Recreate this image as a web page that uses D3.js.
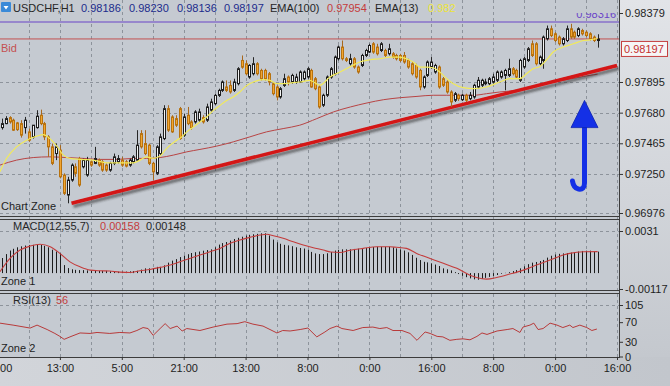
<!DOCTYPE html>
<html>
<head>
<meta charset="utf-8">
<script src="https://cdn.jsdelivr.net/npm/d3@7"></script>
<style>
  html, body { margin: 0; padding: 0; background: #c6cad0; }
  svg { display: block; font-family: "Liberation Sans", Arial, sans-serif; }
</style>
</head>
<body>
<svg id="chart" width="670" height="386"></svg>
<script>
// USDCHF H1 - candles, prices x 100000
const open = [97575,97603,97645,97627,97608,97603,97575,97545,97510,97575,
97662,97603,97510,97440,97393,97417,97242,97102,97207,97300,
97358,97300,97242,97335,97324,97347,97335,97312,97277,97324,
97335,97347,97335,97312,97335,97347,97533,97463,97452,97324,
97254,97393,97498,97708,97650,97638,97708,97522,97662,97615,
97615,97627,97645,97627,97697,97743,97801,97836,97860,97871,
97836,97883,98046,98023,97930,97953,98023,97976,97976,97953,
97883,97860,97790,97871,97930,97895,97895,97895,97918,97930,
97976,97918,97860,97732,97802,97930,97953,98058,98140,98058,
98023,98058,98000,98011,98081,98105,98163,98140,98116,98116,
98093,98093,98081,98081,98081,98046,98023,98011,97976,97860,
97941,98000,97965,98000,97918,97895,97825,97767,97802,97771,
97802,97778,97790,97860,97872,97883,97883,97895,97907,97930,
97941,97941,97988,97976,97907,98000,98046,98163,98163,98023,
98046,98198,98268,98233,98210,98163,98186,98268,98244,98221,
98256,98244,98233,98210,98186];
const high = [97638,97655,97655,97638,97615,97627,97650,97568,97592,97697,
97701,97615,97522,97463,97463,97452,97254,97230,97324,97324,
97370,97358,97370,97347,97440,97358,97347,97324,97335,97393,
97382,97370,97347,97358,97382,97557,97557,97557,97463,97335,
97452,97533,97732,97732,97662,97662,97720,97673,97720,97627,
97697,97708,97662,97743,97778,97813,97848,97906,97906,97906,
97918,97999,98081,98046,98020,98069,98034,97988,97988,97965,
97895,97871,97860,97953,97941,97953,97953,97976,97976,97999,
97988,97930,97872,97813,97941,98000,98081,98151,98186,98070,
98093,98070,98011,98093,98128,98163,98175,98163,98175,98128,
98163,98105,98093,98093,98105,98058,98035,98023,97988,97941,
98046,98070,98023,98011,97930,97907,97837,97825,97813,97813,
97813,97825,97883,97930,97918,97918,97930,97953,97976,97976,
97988,98058,98000,97988,98058,98070,98140,98186,98175,98081,
98221,98291,98291,98244,98221,98210,98291,98303,98256,98279,
98268,98256,98244,98221,98230];
const low = [97561,97599,97603,97552,97552,97505,97533,97475,97498,97568,
97592,97487,97370,97312,97347,97219,97102,97044,97195,97230,
97160,97289,97230,97300,97319,97300,97265,97265,97265,97312,
97324,97300,97296,97300,97324,97335,97428,97382,97312,97207,
97242,97382,97487,97545,97538,97580,97490,97510,97592,97561,
97603,97615,97603,97615,97685,97731,97790,97825,97825,97813,
97825,97871,97988,97941,97918,97941,97941,97906,97906,97871,
97801,97766,97778,97860,97871,97883,97883,97888,97906,97918,
97855,97837,97708,97720,97790,97918,97941,98046,98046,98035,
98011,97988,97953,98000,98070,98098,98093,98081,98105,98070,
98081,98058,98046,98035,98023,97988,97941,97918,97837,97848,
97930,97988,97953,97848,97860,97813,97720,97755,97762,97762,
97755,97767,97778,97848,97860,97872,97872,97883,97895,97918,
97837,97930,97941,97918,97895,97988,98035,98070,98011,98011,
97988,98186,98210,98175,98151,98151,98175,98198,98198,98210,
98221,98210,98186,98175,98136];
const close = [97603,97638,97615,97557,97561,97522,97627,97487,97592,97655,
97603,97510,97440,97324,97440,97230,97114,97207,97312,97254,
97172,97347,97347,97312,97358,97312,97277,97277,97324,97370,
97358,97312,97305,97347,97370,97452,97440,97393,97324,97265,
97440,97510,97708,97557,97545,97592,97498,97650,97603,97575,
97685,97685,97615,97720,97755,97801,97836,97895,97836,97825,
97895,97988,97999,97953,98011,98023,97953,97918,97918,97895,
97813,97790,97848,97918,97895,97941,97930,97965,97965,97988,
97860,97848,97720,97802,97930,97988,98070,98140,98058,98046,
98058,98000,97965,98081,98116,98151,98105,98093,98163,98081,
98128,98070,98058,98046,98035,98000,97953,97930,97860,97930,
98035,98035,98011,97860,97872,97825,97755,97813,97778,97802,
97767,97802,97872,97907,97907,97895,97918,97930,97965,97965,
97976,97988,97953,97930,98046,98058,98128,98081,98023,98070,
98210,98268,98221,98186,98163,98198,98268,98210,98210,98268,
98233,98221,98198,98186,98197];

// moving averages (bar index, price x 100000)
const ema13Idx = [-0.5,1.2,3.8,6.4,9,10.7,12.4,14.2,15.9,17.6,20.2,23.6,27.1,30.5,34,35.7,37.4,39.1,40.9,42.2,
  43.5,45.2,46.5,47.8,49.5,51.2,52.9,54.7,56.4,58.1,59.8,61.5,63.3,65,67.6,69.3,71,72.7,74.5,77,
  79.6,82.2,84.8,87.4,89.9,92.5,95.1,97.7,100.3,102.9,104.6,106.3,108.1,109.8,111.5,113.2,115,116.7,119.3,121.9,
  125.3,128.7,131.3,133.9,135.6,137.3,139.1,140.8,142.5,145.1,147.7,150.3,152,154];
const ema13 = [97265,97358,97440,97487,97515,97526,97498,97445,97382,97359,97352,97347,97328,97328,97328,97347,97370,97359,97375,97417,
  97452,97487,97510,97545,97580,97615,97650,97696,97731,97766,97790,97825,97871,97895,97911,97906,97883,97883,97888,97895,
  97906,97872,97930,97965,98000,98035,98051,98058,98070,98070,98058,98035,98000,98000,97995,97965,97918,97883,97855,97848,
  97860,97895,97918,97918,97953,97988,98004,98051,98105,98140,98163,98186,98191,98200];
const ema100Idx = [-0.5,3.8,8.1,12.4,16.7,21.1,25.4,29.7,34,37.4,40.9,44.3,47.8,51.2,55.5,59.8,64.1,68.4,72.7,77,
  81.4,85.7,90.1,94.4,98.7,103,107.3,111.5,115,118.4,121.9,125.3,128.7,133,137.3,141.6,145.9,150.3,154];
const ema100 = [97312,97347,97365,97370,97365,97359,97352,97352,97359,97359,97365,97382,97405,97422,97445,97475,97510,97545,97568,97592,
  97638,97685,97720,97748,97771,97785,97794,97802,97802,97802,97802,97813,97825,97837,97865,97888,97911,97934,97950];

// MACD(12,55,7) histogram, x 100000, one per bar
const macd = [111,140,166,179,190,197,203,207,208,212,
  207,201,190,172,159,148,59,37,28,24,
  22,22,20,18,17,17,17,17,13,11,
  10,10,11,13,15,17,26,35,35,37,
  46,46,57,77,92,103,118,129,139,148,
  154,159,165,170,175,190,210,221,229,239,
  251,260,268,276,282,286,289,293,293,277,
  247,227,216,208,204,198,190,185,181,173,
  156,145,140,140,146,155,166,171,175,175,
  175,178,180,182,185,189,192,194,194,194,
  194,190,182,175,166,153,134,113,96,83,
  79,72,63,52,35,28,20,7,-7,-20,
  -30,-39,-46,-49,-42,-35,-28,-21,-14,-5,
  2,7,15,22,35,50,66,77,82,89,
  97,114,128,137,142,145,148,151,155,159,
  163,165,165,161,158];
const sigIdx = [-0.5,2.1,4.7,7.3,9.9,12.5,15,17.6,20.2,22.8,25.4,27.9,30.5,33.1,35.7,38.3,40.9,43.5,46,48.6,
  51.2,53.8,56.4,59,61.5,64.1,66.7,68.5,70.2,72.7,75.3,77.9,80.5,83.1,85,87.4,90,93.4,96.9,100.3,
  102,104.6,107.2,110.7,114.1,117.6,121,122.7,125.3,127.9,131.3,134.8,138.2,141.7,145.1,146.8,150.3,154];
const sigVal = [10,108,170,199,212,194,145,83,46,22,17,15,7,5,17,27,42,59,83,108,
  133,157,182,219,244,263,280,286,275,256,231,207,187,170,155,152,168,182,194,194,
  190,182,145,108,72,35,-15,-32,-44,-32,-7,22,59,96,133,145,157,158];

// RSI(13)
const rsiIdx = [-0.5,2.9,7.3,9.1,11.7,13.7,15,16.1,17.6,20.2,22.8,24.6,27.9,30.5,33.1,34.9,36.5,37.8,39.1,40.9,
  42.2,43.5,45.3,46.6,47.8,51.2,54.6,58.2,60.8,62.8,64.9,67.5,71.1,72.6,74.5,77.1,79.1,81.4,83.5,84.8,
  86.6,87.9,90.8,93.3,95.9,97.7,99.5,101.1,103.4,105.5,107.3,109.4,110.7,112.5,114,115.8,117.6,119.2,121,122.8,
  124.1,125.4,128,130.6,132.1,133.9,134.7,136.5,137.5,138.6,139.9,141.7,143.5,145,146.8,147.6,149.4,151.2,152.5,153.8];
const rsiVal = [68,64,58,64,55,47,41,35,40,48,47,49,47,49,48,53,59,57,43,57,
  67,57,62,52,57,53,60,66,67,71,66,62,48,53,52,55,58,40,50,57,
  62,57,53,59,60,57,59,53,53,47,33,50,47,41,40,33,35,36,34,41,
  48,45,52,55,57,49,60,64,68,55,57,68,64,59,64,59,64,59,53,56];

// axes
const priceTicks = [0.98379, 0.97895, 0.97680, 0.97465, 0.97250, 0.96976];
const macdTicks = [0.0031, -0.00117];
const macdTickLabels = ["0.0031", "-0.00117"];
const rsiTicks = [105, 70, 30, 0];
const timeIdx = [-1, 15, 31, 47, 63, 79, 95, 111, 127, 143, 159];
const timeLabels = ["21:00","13:00","5:00","21:00","13:00","8:00","0:00","16:00","8:00","0:00","16:00"];

// drawn lines (bar index, price)
const trendLine = [[18, 0.97044], [159, 0.98011]];
const resistLine = [[134, 0.98316], [159, 0.98316]];
const markLevel = 0.98316;
const bidPrice = 0.98197;
const arrowMark = { idx: 150.6, tip: 0.97766, neck: 0.97575, foot: 0.97186 };

const plotR = 619;
const svg = d3.select("#chart");

const x = d3.scaleLinear().domain([-1, 159]).range([-2, 617]);
const yMain = d3.scaleLinear().domain([0.96976, 0.98379]).range([213, 13]);
const yMacd = d3.scaleLinear().domain([-0.00117, 0.0031]).range([289, 231]);
const yRsi = d3.scaleLinear().domain([0, 105]).range([356.5, 305]);

// defs
const defs = svg.append("defs");
const gAxis = defs.append("linearGradient").attr("id", "axbg").attr("x1", 0).attr("y1", 0).attr("x2", 0).attr("y2", 1);
gAxis.append("stop").attr("offset", "0%").attr("stop-color", "#e2e4e8");
gAxis.append("stop").attr("offset", "100%").attr("stop-color", "#c4c8ce");
const gBot = defs.append("linearGradient").attr("id", "botbg").attr("x1", 0).attr("y1", 0).attr("x2", 1).attr("y2", 0);
gBot.append("stop").attr("offset", "0%").attr("stop-color", "#d2d5da");
gBot.append("stop").attr("offset", "100%").attr("stop-color", "#c2c6cc");
const shadow = defs.append("filter").attr("id", "shadow").attr("x", "-10%").attr("y", "-50%").attr("width", "130%").attr("height", "300%");
shadow.append("feDropShadow").attr("dx", 2).attr("dy", 3).attr("stdDeviation", 1.3)
  .attr("flood-color", "#2a2a2a").attr("flood-opacity", 0.55);
defs.append("clipPath").attr("id", "plotclip").append("rect")
  .attr("x", 0).attr("y", 0).attr("width", plotR).attr("height", 216);
defs.append("clipPath").attr("id", "labclip").append("rect")
  .attr("x", 0).attr("y", 13).attr("width", plotR).attr("height", 30);

// backgrounds
svg.append("rect").attr("width", 670).attr("height", 386).attr("fill", "url(#botbg)");
svg.append("rect").attr("x", 0).attr("y", 0).attr("width", plotR).attr("height", 357).attr("fill", "#c5cad1");
svg.append("rect").attr("x", plotR).attr("y", 0).attr("width", 51).attr("height", 357).attr("fill", "url(#axbg)");

// grid
const grid = svg.append("g").attr("stroke", "#8d939b").attr("stroke-dasharray", "3,3").attr("stroke-width", 1);
grid.selectAll(".v").data(d3.range(-1, 160, 8)).join("line")
  .attr("x1", d => Math.round(x(d)) + 0.5).attr("x2", d => Math.round(x(d)) + 0.5)
  .attr("y1", 0).attr("y2", 357);
grid.selectAll(".h").data(priceTicks.slice(1)).join("line")
  .attr("x1", 0).attr("x2", plotR).attr("y1", d => Math.round(yMain(d)) + 0.5).attr("y2", d => Math.round(yMain(d)) + 0.5);
grid.selectAll(".hm").data([0.0031]).join("line")
  .attr("x1", 0).attr("x2", plotR).attr("y1", d => Math.round(yMacd(d)) + 0.5).attr("y2", d => Math.round(yMacd(d)) + 0.5);
grid.selectAll(".hr").data([105]).join("line")
  .attr("x1", 0).attr("x2", plotR).attr("y1", d => Math.round(yRsi(d)) + 0.5).attr("y2", d => Math.round(yRsi(d)) + 0.5);

// main panel
const main = svg.append("g").attr("clip-path", "url(#plotclip)");

// level lines
main.append("line").attr("x1", 0).attr("x2", plotR)
  .attr("y1", yMain(markLevel)).attr("y2", yMain(markLevel))
  .attr("stroke", "#6a44c8").attr("stroke-width", 1.2);
main.append("line").attr("x1", 0).attr("x2", plotR)
  .attr("y1", yMain(bidPrice)).attr("y2", yMain(bidPrice))
  .attr("stroke", "#c45050").attr("stroke-width", 1);

// EMA(100)
const lineMain = d3.line().x(d => x(d[0])).y(d => yMain(d[1] / 1e5)).curve(d3.curveMonotoneX);
main.append("path").datum(ema100Idx.map((d, i) => [d, ema100[i]]))
  .attr("d", lineMain).attr("fill", "none").attr("stroke", "#b84444").attr("stroke-width", 1);

// trend lines with shadow
const lineP = d3.line().x(d => x(d[0])).y(d => yMain(d[1]));
main.append("path").datum(trendLine).attr("d", lineP)
  .attr("stroke", "#d41414").attr("stroke-width", 3.5).attr("fill", "none").attr("filter", "url(#shadow)");
main.append("path").datum(resistLine).attr("d", lineP)
  .attr("stroke", "#d41414").attr("stroke-width", 3.5).attr("fill", "none").attr("filter", "url(#shadow)");

// candles
const bars = d3.range(close.length).map(i => ({
  i, o: open[i] / 1e5, h: high[i] / 1e5, l: low[i] / 1e5, c: close[i] / 1e5
}));
const cg = main.append("g").selectAll("g").data(bars).join("g");
cg.append("line")
  .attr("x1", d => Math.round(x(d.i)) + 0.5).attr("x2", d => Math.round(x(d.i)) + 0.5)
  .attr("y1", d => yMain(d.h)).attr("y2", d => yMain(d.l))
  .attr("stroke", d => d.c >= d.o ? "#262626" : "#a8681e").attr("stroke-width", 1);
cg.append("rect")
  .attr("x", d => Math.round(x(d.i)) - 0.5)
  .attr("width", 2)
  .attr("y", d => yMain(Math.max(d.o, d.c)))
  .attr("height", d => Math.max(1, Math.abs(yMain(d.o) - yMain(d.c))))
  .attr("fill", d => d.c >= d.o ? "#f4f4f4" : "#f2a632")
  .attr("stroke", d => d.c >= d.o ? "#1e1e1e" : "#b8720e").attr("stroke-width", 1);

// EMA(13)
main.append("path").datum(ema13Idx.map((d, i) => [d, ema13[i]]))
  .attr("d", lineMain).attr("fill", "none").attr("stroke", "#f2ea5a").attr("stroke-width", 1.2);

// blue arrow
const ax = x(arrowMark.idx), aTip = yMain(arrowMark.tip), aNeck = yMain(arrowMark.neck), aFoot = yMain(arrowMark.foot);
main.append("path")
  .attr("d", `M${ax},${aNeck} L${ax},${aFoot} Q${ax},${aFoot + 7} ${ax - 6},${aFoot + 6} Q${ax - 11},${aFoot + 5} ${ax - 12},${aFoot - 2}`)
  .attr("fill", "none").attr("stroke", "#1430e6").attr("stroke-width", 5).attr("stroke-linecap", "round");
main.append("path")
  .attr("d", `M${ax},${aTip} L${ax + 13.5},${aNeck} L${ax - 13.5},${aNeck} Z`)
  .attr("fill", "#1430e6").attr("stroke", "#0c22b0").attr("stroke-width", 0.8);

// level label (partly hidden under the header)
svg.append("text").attr("clip-path", "url(#labclip)")
  .attr("x", 616).attr("y", 18).attr("text-anchor", "end")
  .attr("font-size", 11).attr("fill", "#6a44c8").text("0.98316");

// MACD panel
const mg = svg.append("g");
mg.selectAll("line").data(macd).join("line")
  .attr("x1", (d, i) => Math.round(x(i)) + 0.5).attr("x2", (d, i) => Math.round(x(i)) + 0.5)
  .attr("y1", yMacd(0)).attr("y2", d => yMacd(d / 1e5))
  .attr("stroke", "#1c1c1c").attr("stroke-width", 1);
mg.append("path").datum(sigIdx.map((d, i) => [d, sigVal[i]]))
  .attr("d", d3.line().x(d => x(d[0])).y(d => yMacd(d[1] / 1e5)).curve(d3.curveMonotoneX))
  .attr("fill", "none").attr("stroke", "#c43c3c").attr("stroke-width", 1.1);

// RSI panel
svg.append("path").datum(rsiIdx.map((d, i) => [d, rsiVal[i]]))
  .attr("d", d3.line().x(d => x(d[0])).y(d => yRsi(d[1])))
  .attr("fill", "none").attr("stroke", "#b83a3a").attr("stroke-width", 1);

// panel borders
const border = svg.append("g").attr("stroke", "#3c3c3c").attr("stroke-width", 1);
[216.5, 219.5, 290.5, 293.5, 357.5].forEach(yy => {
  border.append("line").attr("x1", 0).attr("x2", plotR).attr("y1", yy).attr("y2", yy);
});
border.append("line").attr("x1", plotR + 0.5).attr("x2", plotR + 0.5).attr("y1", 0).attr("y2", 358);

// right axes
function styleAxis(g) {
  g.select(".domain").remove();
  g.selectAll(".tick line").attr("stroke", "#333");
  g.selectAll(".tick text").attr("fill", "#1e1e1e").attr("font-size", 11)
    .attr("font-family", "Liberation Sans, Arial, sans-serif");
}
svg.append("g").attr("transform", `translate(${plotR},0)`)
  .call(d3.axisRight(yMain).tickValues(priceTicks).tickFormat(d3.format(".5f")).tickSize(4).tickPadding(2))
  .call(styleAxis);
svg.append("g").attr("transform", `translate(${plotR},0)`)
  .call(d3.axisRight(yMacd).tickValues(macdTicks).tickFormat((d, i) => macdTickLabels[i]).tickSize(4).tickPadding(2))
  .call(styleAxis);
svg.append("g").attr("transform", `translate(${plotR},0)`)
  .call(d3.axisRight(yRsi).tickValues(rsiTicks).tickSize(4).tickPadding(2))
  .call(styleAxis);
svg.append("g").attr("transform", "translate(0,357)")
  .call(d3.axisBottom(x).tickValues(timeIdx).tickFormat((d, i) => timeLabels[i]).tickSize(3).tickPadding(4))
  .call(styleAxis);

// bid price box
const by = yMain(bidPrice);
svg.append("rect").attr("x", 621.5).attr("y", by + 2.5).attr("width", 46).attr("height", 15)
  .attr("fill", "#f6f6f6").attr("stroke", "#c44040");
svg.append("text").attr("x", 624).attr("y", by + 14).attr("font-size", 11).attr("fill", "#c43030").text("0.98197");

// labels
function label(tx, ty, str, color) {
  svg.append("text").attr("x", tx).attr("y", ty).attr("font-size", 11).attr("fill", color).text(str);
}
// header icon
svg.append("rect").attr("x", 1).attr("y", 2).attr("width", 10).attr("height", 10).attr("rx", 1).attr("fill", "#3a8ad8");
svg.append("path").attr("d", "M3.5,6 L8.5,6 L6,9.5 Z").attr("fill", "#fff");
label(13, 12, "USDCHF,H1", "#262626");
label(81, 12, "0.98186", "#1c2c8c");
label(129, 12, "0.98230", "#1c2c8c");
label(177, 12, "0.98136", "#1c2c8c");
label(224, 12, "0.98197", "#1c2c8c");
label(270, 12, "EMA(100)", "#262626");
label(327, 12, "0.97954", "#c43c3c");
label(375, 12, "EMA(13)", "#262626");
label(428, 12, "0.982", "#ece43a");
label(1, 52, "Bid", "#c45050");
label(1, 210, "Chart Zone", "#1e1e1e");
label(13, 230, "MACD(12,55,7)", "#262626");
label(100, 230, "0.00158", "#c43c3c");
label(146, 230, "0.00148", "#262626");
label(1, 285, "Zone 1", "#1e1e1e");
label(13, 304, "RSI(13)", "#262626");
label(56, 304, "56", "#c43c3c");
label(1, 352, "Zone 2", "#1e1e1e");
</script>
</body>
</html>
